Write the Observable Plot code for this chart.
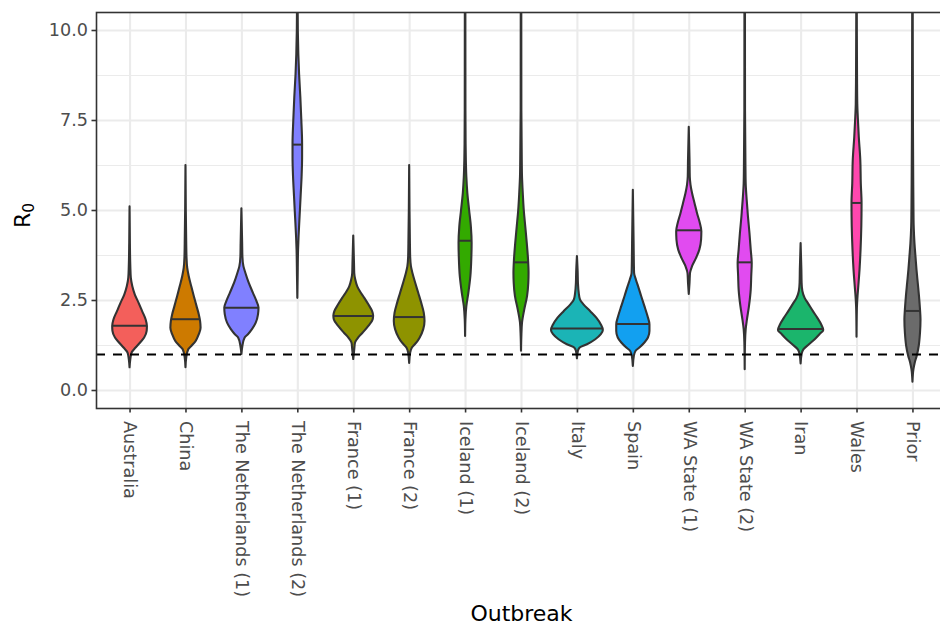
<!DOCTYPE html>
<html>
<head>
<meta charset="utf-8">
<script src="https://cdn.jsdelivr.net/npm/d3@7"></script>
<script src="https://cdn.jsdelivr.net/npm/@observablehq/plot@0.6"></script>
<style>
  html, body { margin: 0; padding: 0; overflow: hidden; background: #fff; }
  #chart { width: 940px; height: 626px; overflow: hidden; }
  #chart svg { max-width: none !important; display: block; }
</style>
</head>
<body>
<div id="chart"></div>
<script>
// Outbreaks in axis order
const outbreaks = [
  "Australia", "China", "The Netherlands (1)", "The Netherlands (2)",
  "France (1)", "France (2)", "Iceland (1)", "Iceland (2)", "Italy", "Spain",
  "WA State (1)", "WA State (2)", "Iran", "Wales", "Prior"
];

// Fill per outbreak (one hue per country)
const fillColors = [
  "#F35F5B", "#CD7A00", "#8080FF", "#8080FF",
  "#8E9300", "#8E9300", "#33AA00", "#33AA00", "#1BB4B6", "#12A0F0",
  "#E14BF0", "#E14BF0", "#1BB56C", "#FF47AE", "#6B6B6B"
];

// Posterior medians of R0
const medians = [1.80, 1.98, 2.30, 6.83, 2.07, 2.04, 4.16, 3.56, 1.72, 1.85, 4.45, 3.56, 1.71, 5.21, 2.21];

// Density profiles: [R0, relative density] (1 = widest violin)
const australia = [[0.63,0],[0.86,0.03],[1.04,0.08],[1.18,0.24],[1.32,0.42],[1.46,0.58],[1.64,0.68],[1.78,0.69],[1.96,0.64],[2.19,0.50],[2.42,0.36],[2.65,0.21],[2.88,0.11],[3.12,0.05],[3.44,0.03],[4.08,0.013],[5.10,0]];
const china = [[0.63,0],[0.90,0.03],[1.13,0.11],[1.23,0.24],[1.36,0.40],[1.55,0.53],[1.73,0.60],[1.92,0.58],[2.10,0.53],[2.33,0.44],[2.61,0.33],[2.88,0.23],[3.16,0.13],[3.39,0.07],[3.71,0.04],[4.08,0.03],[5.00,0.013],[6.25,0]];
const netherlands1 = [[1.00,0],[1.23,0.04],[1.46,0.13],[1.55,0.26],[1.69,0.42],[1.87,0.57],[2.10,0.66],[2.29,0.68],[2.47,0.60],[2.70,0.46],[2.98,0.29],[3.25,0.16],[3.44,0.08],[3.71,0.04],[4.08,0.03],[5.05,0]];
const netherlands2 = [[2.56,0],[3.16,0.013],[3.90,0.03],[4.27,0.05],[4.82,0.09],[5.37,0.13],[5.93,0.17],[6.48,0.19],[6.85,0.19],[7.49,0.16],[8.14,0.12],[8.78,0.07],[9.34,0.04],[9.98,0.02],[11.0,0.01],[13.0,0]];
const france1 = [[0.86,0],[1.13,0.04],[1.32,0.07],[1.46,0.20],[1.59,0.37],[1.78,0.60],[1.96,0.77],[2.07,0.79],[2.19,0.75],[2.38,0.60],[2.56,0.44],[2.75,0.26],[2.88,0.16],[3.07,0.08],[3.25,0.04],[3.53,0.03],[4.29,0]];
const france2 = [[0.75,0],[1.04,0.04],[1.18,0.11],[1.32,0.29],[1.46,0.42],[1.69,0.56],[1.92,0.61],[2.15,0.58],[2.42,0.48],[2.70,0.36],[2.98,0.24],[3.25,0.13],[3.44,0.07],[3.71,0.04],[4.08,0.03],[5.00,0.013],[6.25,0]];
const iceland1 = [[1.50,0],[1.96,0.013],[2.33,0.05],[2.70,0.13],[3.16,0.21],[3.71,0.25],[4.08,0.26],[4.54,0.23],[5.00,0.16],[5.47,0.09],[5.93,0.05],[6.39,0.03],[6.85,0.02],[7.77,0.013],[10.53,0.01],[12.0,0]];
const iceland2 = [[1.09,0],[1.50,0.013],[1.87,0.04],[2.24,0.13],[2.61,0.24],[2.98,0.29],[3.25,0.30],[3.62,0.28],[4.08,0.23],[4.54,0.17],[5.00,0.11],[5.47,0.07],[5.93,0.04],[6.39,0.03],[7.77,0.013],[10.53,0.01],[12.0,0]];
const italy = [[0.88,0],[1.09,0.04],[1.18,0.11],[1.27,0.40],[1.41,0.73],[1.55,0.95],[1.67,1.03],[1.82,0.95],[2.01,0.77],[2.19,0.53],[2.38,0.26],[2.52,0.12],[2.71,0.07],[2.98,0.04],[3.26,0.03],[3.72,0]];
const spain = [[0.67,0],[0.95,0.04],[1.09,0.11],[1.18,0.26],[1.32,0.46],[1.46,0.60],[1.64,0.66],[1.82,0.66],[2.06,0.58],[2.33,0.46],[2.61,0.33],[2.88,0.21],[3.07,0.12],[3.25,0.05],[3.53,0.04],[4.08,0.03],[5.56,0]];
const waState1 = [[2.67,0],[2.98,0.03],[3.25,0.05],[3.44,0.13],[3.67,0.29],[3.90,0.42],[4.18,0.49],[4.41,0.50],[4.64,0.44],[4.91,0.33],[5.19,0.23],[5.47,0.13],[5.70,0.07],[5.93,0.04],[6.39,0.03],[7.31,0]];
const waState2 = [[0.58,0],[1.32,0.013],[1.69,0.04],[1.96,0.09],[2.33,0.17],[2.79,0.24],[3.16,0.26],[3.53,0.28],[3.90,0.24],[4.36,0.19],[4.82,0.13],[5.28,0.08],[5.74,0.04],[6.20,0.03],[7.77,0.013],[10.53,0.01],[12.0,0]];
const iran = [[0.74,0],[1.00,0.04],[1.13,0.11],[1.27,0.33],[1.41,0.56],[1.55,0.75],[1.67,0.90],[1.82,0.82],[2.01,0.66],[2.19,0.49],[2.38,0.32],[2.56,0.16],[2.75,0.07],[2.98,0.04],[3.35,0.03],[4.08,0]];
const wales = [[1.48,0],[2.24,0.013],[2.61,0.04],[2.88,0.07],[3.35,0.12],[3.90,0.16],[4.54,0.19],[5.19,0.20],[5.74,0.17],[6.39,0.15],[7.03,0.09],[7.59,0.05],[7.95,0.03],[8.69,0.02],[10.53,0.01],[12.0,0]];
const prior = [[0.23,0],[0.58,0.04],[0.76,0.09],[0.95,0.17],[1.23,0.25],[1.59,0.30],[1.96,0.32],[2.24,0.30],[2.61,0.26],[2.98,0.21],[3.35,0.16],[3.71,0.12],[4.08,0.08],[4.54,0.05],[5.00,0.04],[5.93,0.03],[7.31,0.02],[10.53,0.01],[12.0,0]];

const profiles = [australia, china, netherlands1, netherlands2, france1, france2,
  iceland1, iceland2, italy, spain, waState1, waState2, iran, wales, prior];

// Reference line and y-axis breaks
const threshold = [1];
const yMajor = [0, 2.5, 5, 7.5, 10];
const yMinor = [1.25, 3.75, 6.25, 8.75];

// Half of the maximum violin width, in category units
const maxHalf = 0.45;

const outline = [];
profiles.forEach((prof, i) => {
  prof.forEach(([r, dens]) => outline.push({i, outbreak: outbreaks[i], r, half: dens * maxHalf}));
});

// Width of each violin at its median, for the quantile segment
function halfAt(prof, v) {
  for (let k = 1; k < prof.length; k++) {
    const [r0, d0] = prof[k - 1], [r1, d1] = prof[k];
    if (v >= r0 && v <= r1) return (d0 + (d1 - d0) * (v - r0) / (r1 - r0)) * maxHalf;
  }
  return 0;
}
const medianRows = medians.map((m, i) => ({i, r: m, half: halfAt(profiles[i], m)}));

const ink = "#333333";
const textGrey = "#4D4D4D";
const gridGrey = "#EBEBEB";

const chart = Plot.plot({
  width: 946,
  height: 626,
  marginLeft: 96,
  marginRight: 0,
  marginTop: 12,
  marginBottom: 218,
  style: {fontFamily: "'DejaVu Sans', sans-serif", background: "#fff"},
  x: {type: "linear", domain: [-0.6, 14.6]},
  y: {domain: [-0.5, 10.5]},
  color: {type: "ordinal", domain: outbreaks, range: fillColors},
  marks: [
    Plot.gridY(yMinor, {stroke: gridGrey, strokeOpacity: 1, strokeWidth: 1.1}),
    Plot.gridY(yMajor, {stroke: gridGrey, strokeOpacity: 1, strokeWidth: 2.1}),
    Plot.gridX(d3.range(outbreaks.length), {stroke: gridGrey, strokeOpacity: 1, strokeWidth: 2.1}),
    Plot.areaX(outline, {
      y: "r",
      x1: d => d.i - d.half,
      x2: d => d.i + d.half,
      fill: "outbreak",
      stroke: ink,
      strokeWidth: 2.1,
      strokeLinejoin: "round",
      curve: "monotone-y",
      clip: true
    }),
    Plot.ruleY(medianRows, {
      y: "r",
      x1: d => d.i - d.half,
      x2: d => d.i + d.half,
      stroke: ink,
      strokeWidth: 2
    }),
    Plot.ruleY(threshold, {stroke: "#000", strokeWidth: 2.1, strokeDasharray: "9,8"}),
    Plot.frame({stroke: ink, strokeWidth: 1.6}),
    Plot.axisY(yMajor, {
      tickFormat: d3.format(".1f"),
      tickSize: 4.5,
      tickPadding: 4,
      fontSize: 17.6,
      stroke: ink,
      fill: textGrey,
      strokeWidth: 1.6,
      label: null
    }),
    Plot.axisX(d3.range(outbreaks.length), {
      tickFormat: i => outbreaks[i],
      tickRotate: 90,
      tickSize: 4.5,
      tickPadding: 8,
      fontSize: 17.6,
      stroke: ink,
      fill: textGrey,
      strokeWidth: 1.6,
      label: null
    }),
    Plot.text(["Outbreak"], {
      frameAnchor: "bottom",
      lineAnchor: "bottom",
      dy: 212,
      fontSize: 22,
      fill: "#000"
    }),
    Plot.text(["R"], {
      frameAnchor: "left",
      lineAnchor: "bottom",
      textAnchor: "middle",
      rotate: -90,
      dx: -67,
      dy: 5,
      fontSize: 22,
      fill: "#000",
      className: "y-title"
    })
  ]
});

// Typeset the y title as R with a subscript 0
d3.select(chart).selectAll(".y-title text").each(function () {
  d3.select(this).append("tspan")
    .attr("dy", "0.3em")
    .attr("font-size", "15.5px")
    .text("0");
});

document.getElementById("chart").appendChild(chart);
</script>
</body>
</html>
